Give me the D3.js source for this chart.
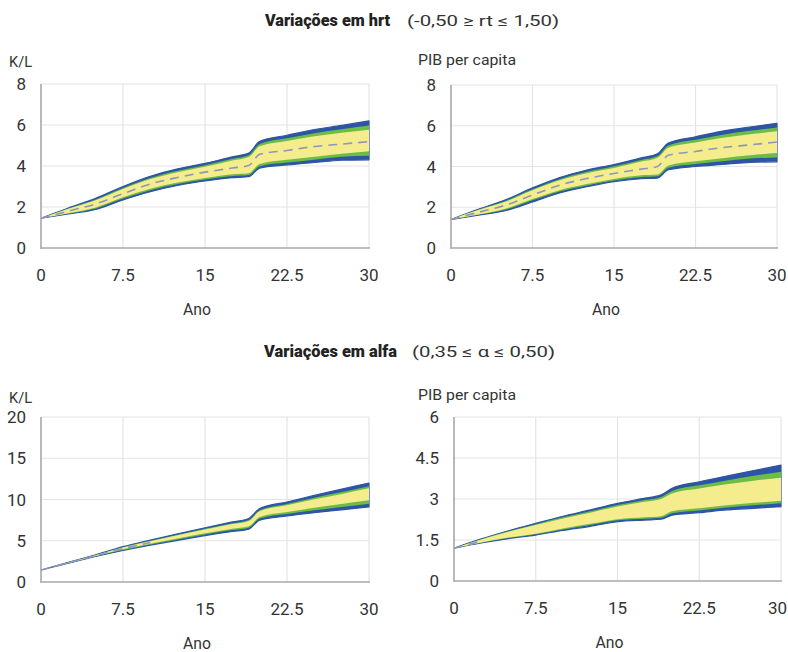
<!DOCTYPE html>
<html><head><meta charset="utf-8">
<script src="https://cdn.jsdelivr.net/npm/d3@7"></script>
<style>
body{margin:0;background:#fff;}
svg{display:block;}
text{font-family:Roboto,'Liberation Sans',sans-serif;fill:#333;}
</style></head><body>
<svg id="c" width="788" height="652"></svg>
<script>
const years = [0, 2.5, 5, 7.5, 10, 12.5, 15, 17.5, 19, 20, 22.5, 25, 27.5, 30];
const xTicks = [0, 7.5, 15, 22.5, 30];
const xTickLabels = ["0", "7.5", "15", "22.5", "30"];

// Panel 1: K/L, variações em hrt
const p1BlueHigh   = [1.45, 1.95, 2.42, 3.0, 3.5, 3.86, 4.13, 4.45, 4.63, 5.2, 5.5, 5.78, 5.98, 6.2];
const p1GreenHigh  = [1.45, 1.93, 2.37, 2.93, 3.42, 3.77, 4.04, 4.35, 4.52, 5.07, 5.35, 5.6, 5.79, 5.97];
const p1YellowHigh = [1.45, 1.91, 2.33, 2.88, 3.36, 3.7, 3.96, 4.27, 4.44, 4.96, 5.22, 5.45, 5.62, 5.77];
const p1Mid        = [1.45, 1.8, 2.15, 2.65, 3.12, 3.44, 3.7, 3.9, 4.02, 4.57, 4.76, 4.95, 5.07, 5.19];
const p1YellowLow  = [1.45, 1.7, 1.98, 2.47, 2.89, 3.19, 3.42, 3.6, 3.65, 4.1, 4.3, 4.45, 4.6, 4.72];
const p1GreenLow   = [1.45, 1.68, 1.93, 2.41, 2.82, 3.12, 3.34, 3.51, 3.56, 3.99, 4.17, 4.31, 4.45, 4.5];
const p1BlueLow    = [1.45, 1.66, 1.88, 2.35, 2.75, 3.05, 3.27, 3.43, 3.48, 3.9, 4.05, 4.17, 4.28, 4.3];

// Panel 2: PIB per capita, variações em hrt
const p2BlueHigh   = [1.4, 1.9, 2.36, 2.95, 3.46, 3.83, 4.1, 4.42, 4.62, 5.15, 5.46, 5.74, 5.94, 6.12];
const p2GreenHigh  = [1.4, 1.88, 2.31, 2.88, 3.38, 3.74, 4.01, 4.32, 4.51, 5.03, 5.31, 5.56, 5.75, 5.92];
const p2YellowHigh = [1.4, 1.86, 2.27, 2.83, 3.32, 3.67, 3.93, 4.24, 4.43, 4.92, 5.18, 5.41, 5.58, 5.73];
const p2Mid        = [1.4, 1.75, 2.1, 2.6, 3.08, 3.41, 3.66, 3.87, 4.0, 4.55, 4.74, 4.93, 5.06, 5.2];
const p2YellowLow  = [1.4, 1.65, 1.93, 2.4, 2.84, 3.14, 3.39, 3.57, 3.61, 4.05, 4.26, 4.41, 4.55, 4.66];
const p2GreenLow   = [1.4, 1.63, 1.88, 2.34, 2.77, 3.07, 3.31, 3.48, 3.52, 3.94, 4.12, 4.26, 4.39, 4.44];
const p2BlueLow    = [1.4, 1.61, 1.83, 2.26, 2.7, 3.01, 3.26, 3.4, 3.43, 3.84, 4.0, 4.1, 4.2, 4.23];

// Panel 3: K/L, variações em alfa
const p3BlueHigh   = [1.45, 2.38, 3.3, 4.28, 5.08, 5.85, 6.58, 7.28, 7.7, 8.9, 9.7, 10.5, 11.25, 12.0];
const p3GreenHigh  = [1.45, 2.37, 3.27, 4.22, 5.0, 5.74, 6.45, 7.12, 7.52, 8.7, 9.46, 10.21, 10.9, 11.6];
const p3YellowHigh = [1.45, 2.36, 3.25, 4.18, 4.95, 5.67, 6.36, 7.02, 7.4, 8.57, 9.31, 10.02, 10.68, 11.35];
const p3Mid        = [1.45, 2.33, 3.2, 4.05, 4.78, null, null, null, null, null, null, null, null, null];
const p3YellowLow  = [1.45, 2.31, 3.16, 3.96, 4.65, 5.27, 5.9, 6.45, 6.76, 7.89, 8.48, 8.99, 9.45, 9.9];
const p3GreenLow   = [1.45, 2.29, 3.13, 3.89, 4.56, 5.16, 5.76, 6.29, 6.58, 7.7, 8.24, 8.69, 9.1, 9.5];
const p3BlueLow    = [1.45, 2.28, 3.1, 3.83, 4.48, 5.05, 5.63, 6.13, 6.4, 7.5, 8.0, 8.4, 8.75, 9.1];

// Panel 4: PIB per capita, variações em alfa
const p4BlueHigh   = [1.2, 1.54, 1.84, 2.11, 2.37, 2.6, 2.84, 3.03, 3.15, 3.39, 3.63, 3.84, 4.04, 4.24];
const p4GreenHigh  = [1.2, 1.53, 1.82, 2.08, 2.33, 2.55, 2.78, 2.96, 3.07, 3.29, 3.5, 3.68, 3.85, 4.0];
const p4YellowHigh = [1.2, 1.52, 1.8, 2.05, 2.29, 2.5, 2.73, 2.9, 3.0, 3.2, 3.38, 3.54, 3.67, 3.78];
const p4Mid        = [1.2, 1.46, null, null, null, null, null, null, null, null, null, null, null, null];
const p4YellowLow  = [1.2, 1.41, 1.59, 1.73, 1.92, 2.09, 2.26, 2.33, 2.37, 2.55, 2.66, 2.77, 2.86, 2.94];
const p4GreenLow   = [1.2, 1.4, 1.57, 1.71, 1.88, 2.05, 2.22, 2.28, 2.31, 2.48, 2.58, 2.69, 2.77, 2.84];
const p4BlueLow    = [1.2, 1.39, 1.55, 1.68, 1.85, 2.0, 2.17, 2.23, 2.26, 2.41, 2.5, 2.6, 2.66, 2.72];

const yTicksA = [0, 2, 4, 6, 8];
const yTickLabelsA = ["0", "2", "4", "6", "8"];
const yTicksB = [0, 5, 10, 15, 20];
const yTickLabelsB = ["0", "5", "10", "15", "20"];
const yTicksC = [0, 1.5, 3, 4.5, 6];
const yTickLabelsC = ["0", "1.5", "3", "4.5", "6"];

const panels = [
  {x0:41, x1:369, y0:84, y1:248, ymax:8, yt:yTicksA, ytl:yTickLabelsA, ylab:"K/L", ylabX:9, ylabY:67,
   bh:p1BlueHigh, gh:p1GreenHigh, yh:p1YellowHigh, mid:p1Mid, yl:p1YellowLow, gl:p1GreenLow, bl:p1BlueLow},
  {x0:451, x1:777, y0:85, y1:248, ymax:8, yt:yTicksA, ytl:yTickLabelsA, ylab:"PIB per capita", ylabX:418, ylabY:65,
   bh:p2BlueHigh, gh:p2GreenHigh, yh:p2YellowHigh, mid:p2Mid, yl:p2YellowLow, gl:p2GreenLow, bl:p2BlueLow},
  {x0:41, x1:369, y0:417, y1:582, ymax:20, yt:yTicksB, ytl:yTickLabelsB, ylab:"K/L", ylabX:9, ylabY:403,
   bh:p3BlueHigh, gh:p3GreenHigh, yh:p3YellowHigh, mid:p3Mid, yl:p3YellowLow, gl:p3GreenLow, bl:p3BlueLow},
  {x0:454, x1:781, y0:417, y1:581, ymax:6, yt:yTicksC, ytl:yTickLabelsC, ylab:"PIB per capita", ylabX:418, ylabY:400,
   bh:p4BlueHigh, gh:p4GreenHigh, yh:p4YellowHigh, mid:p4Mid, yl:p4YellowLow, gl:p4GreenLow, bl:p4BlueLow}
];

const svg = d3.select("#c");
const BLUE = "#2e55a5", GREEN = "#6bbd45", YELLOW = "#f5ec8e", MID = "#8d97b8";
const W = 788;

panels.forEach(p => {
  const x = d3.scaleLinear().domain([0, 30]).range([p.x0, p.x1]);
  const y = d3.scaleLinear().domain([0, p.ymax]).range([p.y1, p.y0]);
  const g = svg.append("g");

  // grid
  g.selectAll("line.vg").data(xTicks.slice(1)).enter().append("line")
    .attr("x1", d => x(d)).attr("x2", d => x(d)).attr("y1", p.y0).attr("y2", p.y1)
    .attr("stroke", "#e4e4e4").attr("stroke-width", 1.2);
  g.selectAll("line.hg").data(p.yt.slice(1)).enter().append("line")
    .attr("x1", p.x0).attr("x2", p.x1).attr("y1", d => y(d)).attr("y2", d => y(d))
    .attr("stroke", "#e4e4e4").attr("stroke-width", 1.2);

  const rows = years.map((t, i) => ({t, bh:p.bh[i], gh:p.gh[i], yh:p.yh[i], mid:p.mid[i], yl:p.yl[i], gl:p.gl[i], bl:p.bl[i]}));
  const area = (lo, hi) => d3.area().curve(d3.curveMonotoneX).x(d => x(d.t)).y0(d => y(d[lo])).y1(d => y(d[hi]));
  g.append("path").datum(rows).attr("d", area("bl", "bh")).attr("fill", BLUE)
    .attr("stroke", BLUE).attr("stroke-width", 1.2).attr("stroke-linejoin", "round");
  g.append("path").datum(rows).attr("d", area("gl", "gh")).attr("fill", GREEN);
  g.append("path").datum(rows).attr("d", area("yl", "yh")).attr("fill", YELLOW);
  const midLine = d3.line().curve(d3.curveMonotoneX).defined(d => d.mid != null).x(d => x(d.t)).y(d => y(d.mid));
  g.append("path").datum(rows).attr("d", midLine).attr("fill", "none")
    .attr("stroke", MID).attr("stroke-width", 1.6).attr("stroke-dasharray", "9,6");

  // axes
  g.append("line").attr("x1", p.x0).attr("x2", p.x0).attr("y1", p.y0).attr("y2", p.y1 + 1)
    .attr("stroke", "#a8a8a8").attr("stroke-width", 1.6);
  g.append("line").attr("x1", p.x0).attr("x2", p.x1 + 1).attr("y1", p.y1).attr("y2", p.y1)
    .attr("stroke", "#a8a8a8").attr("stroke-width", 1.6);

  // y tick labels
  g.selectAll("text.yt").data(p.yt).enter().append("text")
    .attr("x", p.x0 - 15).attr("y", d => y(d)).attr("dy", "0.36em")
    .attr("text-anchor", "end").attr("font-size", 17)
    .text((d, i) => p.ytl[i]);
  // x tick labels (kept inside the page)
  g.selectAll("text.xt").data(xTicks).enter().append("text")
    .attr("y", p.y1 + 33)
    .attr("text-anchor", "middle").attr("font-size", 17)
    .text((d, i) => xTickLabels[i])
    .attr("x", function(d) {
      const w = this.getComputedTextLength();
      return Math.min(x(d), W - 1 - w / 2);
    });
  // axis titles
  g.append("text").attr("x", (p.x0 + p.x1) / 2 - 8).attr("y", p.y1 + 67)
    .attr("text-anchor", "middle").attr("font-size", 16)
    .attr("textLength", 28).attr("lengthAdjust", "spacingAndGlyphs").text("Ano");
  g.append("text").attr("x", p.ylabX).attr("y", p.ylabY).attr("font-size", 14)
    .attr("textLength", p.ylab === "K/L" ? 23 : 98).attr("lengthAdjust", "spacingAndGlyphs").text(p.ylab);
});

// titles
svg.append("text").attr("x", 265).attr("y", 26).attr("font-size", 16).attr("font-weight", "900")
  .attr("textLength", 125).attr("lengthAdjust", "spacingAndGlyphs").style("fill", "#222").text("Variações em hrt");
svg.append("text").attr("x", 407).attr("y", 26).attr("font-size", 15)
  .attr("textLength", 152).attr("lengthAdjust", "spacingAndGlyphs").text("(-0,50 ≥ rt ≤ 1,50)");
svg.append("text").attr("x", 264).attr("y", 357).attr("font-size", 16).attr("font-weight", "900")
  .attr("textLength", 133).attr("lengthAdjust", "spacingAndGlyphs").style("fill", "#222").text("Variações em alfa");
svg.append("text").attr("x", 412).attr("y", 357).attr("font-size", 15)
  .attr("textLength", 143).attr("lengthAdjust", "spacingAndGlyphs").text("(0,35 ≤ α ≤ 0,50)");
</script>
</body></html>
